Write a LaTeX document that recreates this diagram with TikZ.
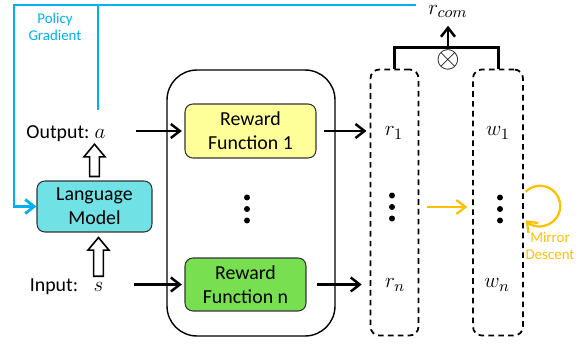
\documentclass[tikz,border=0pt]{standalone}
\usepackage{fontspec}
\setmainfont{Carlito}
\usepackage{tikz}
\usetikzlibrary{calc}
\usetikzlibrary{arrows.meta}
\tikzset{>={Straight Barb[length=1.8mm,width=2.8mm]}}
\definecolor{pgBlue}{RGB}{0,176,240}
\definecolor{mdOrange}{RGB}{255,192,0}
\definecolor{lmCyan}{RGB}{112,226,230}
\definecolor{rfYellow}{RGB}{255,255,153}
\definecolor{rfGreen}{RGB}{120,224,80}
\newcommand{\hollowup}[2]{%
  \draw[line width=0.9pt, fill=white] let \p1=#1, \p2=#2 in
    (\x1-2.8pt,\y1) -- (\x1-2.8pt,\y2-7.2pt) -- (\x1-6pt,\y2-7.2pt) -- (\x1,\y2)
    -- (\x1+6pt,\y2-7.2pt) -- (\x1+2.8pt,\y2-7.2pt) -- (\x1+2.8pt,\y1) -- cycle;}

\begin{document}
\begin{tikzpicture}[
    x = 0.02cm, y = -0.02cm,
    every node/.style = {font=\fontsize{11.3}{13.5}\selectfont},
    box/.style = {draw=black!80, line width=0.6pt, rounded corners=4.5pt,
        align=center, inner sep=0pt},
    panel/.style = {draw, line width=0.8pt, rounded corners=17pt,
        minimum width=3.36cm, minimum height=5.32cm},
    vecbox/.style = {draw, line width=1pt, dash pattern=on 3.2pt off 2.4pt,
        rounded corners=5pt, minimum height=5.32cm},
    sym/.style = {font=\fontsize{13}{15}\selectfont},
    link/.style = {->, line width=1.4pt},
    pg/.style = {pgBlue, line width=1.6pt},
    md/.style = {mdOrange, line width=1.3pt},
    small/.style = {font=\fontsize{8.5}{10}\selectfont, align=center}
  ]
  \useasboundingbox (0,0) rectangle (587,344);

  \node[box, fill=lmCyan, minimum width=2.3cm, minimum height=1.02cm] (lm) at (94.5,206.5) {Language\\Model};
  \node[anchor=base] (outtxt) at (58,138) {Output:};
  \node[anchor=base, sym] (outa) at (100,138) {$a$};
  \node[anchor=base] (intxt) at (54,291.5) {Input:};
  \node[anchor=base, sym] (ins) at (98.5,291.5) {$s$};
  \hollowup{($(lm.north)+(0,-4)$)}{(outa.south)}
  \hollowup{(ins.north)}{($(lm.south)+(0,5)$)}

  \node[panel] (panel) at (251,203) {};
  \node[box, fill=rfYellow, minimum width=2.62cm, minimum height=1.08cm] (rf1) at (250.5,131) {Reward\\Function 1};
  \node[box, fill=rfGreen, minimum width=2.42cm, minimum height=1.06cm] (rfn) at (245.5,284.5) {Reward\\Function n};

  \node[vecbox, minimum width=0.96cm] (rbox) at (394.5,202.5) {};
  \node[vecbox, minimum width=1.0cm] (wbox) at (498,202.5) {};
  \node[sym] (r1) at (394,133) {$r_1$};
  \node[sym] (rn) at (395,285) {$r_n$};
  \node[sym] (w1) at (498,133) {$w_1$};
  \node[sym] (wn) at (497,285) {$w_n$};

  \foreach \n/\px/\py in {fdots/247/209, rdots/392/207, wdots/500/209} {
    \coordinate (\n) at (\px,\py);
    \foreach \k in {-1,0,1}
      \fill ($(\n)+(0,\k*11.5)$) circle (1.7pt);
  }

  \draw[link, shorten >=1.5pt] ($(rf1.west)+(-48,0)$) -- (rf1.west);
  \draw[link, shorten >=1.5pt] ($(rfn.west)+(-50,0)$) -- (rfn.west);
  \draw[link, shorten <=4.5pt, shorten >=1.8pt] (rf1.east) -- (rbox.west |- rf1.east);
  \draw[link, shorten <=6pt, shorten >=4.5pt] (rfn.east) -- (rbox.west |- rfn.east);

  \coordinate (join) at (448,47.5);
  \draw[line width=1.7pt] (rbox.north) |- (join) -| (wbox.north);
  \node (comb) at (448,60) {\fontsize{17}{19}\selectfont$\otimes$};
  \node[anchor=south, sym] (rcom) at (448,24) {$r_{com}$};
  \draw[link, shorten >=1pt] (join) -- (rcom.south);

  \draw[md, ->, shorten <=4.3pt, shorten >=2.8pt] (rbox.east |- rdots) -- (wbox.west |- rdots);
  \coordinate (loop) at (540,206);
  \draw[md, ->] ($(loop)+(135:11.5pt)$) arc[start angle=135, end angle=-135, radius=11.5pt];
  \node[small, text=mdOrange] (mdlbl) at (550,246) {Mirror\\Descent};

  \coordinate (pgend) at (416,5);
  \coordinate (pgcorner) at (14,5);
  \coordinate (pgtap) at (98,5);
  \coordinate (pgdrop) at (98,110);
  \draw[pg, ->] (pgend) -- (pgcorner) |- (lm.west);
  \draw[pg] (pgtap) -- (pgdrop);
  \node[small, text=pgBlue] (pglbl) at (55,27) {Policy\\Gradient};
\end{tikzpicture}
\end{document}
